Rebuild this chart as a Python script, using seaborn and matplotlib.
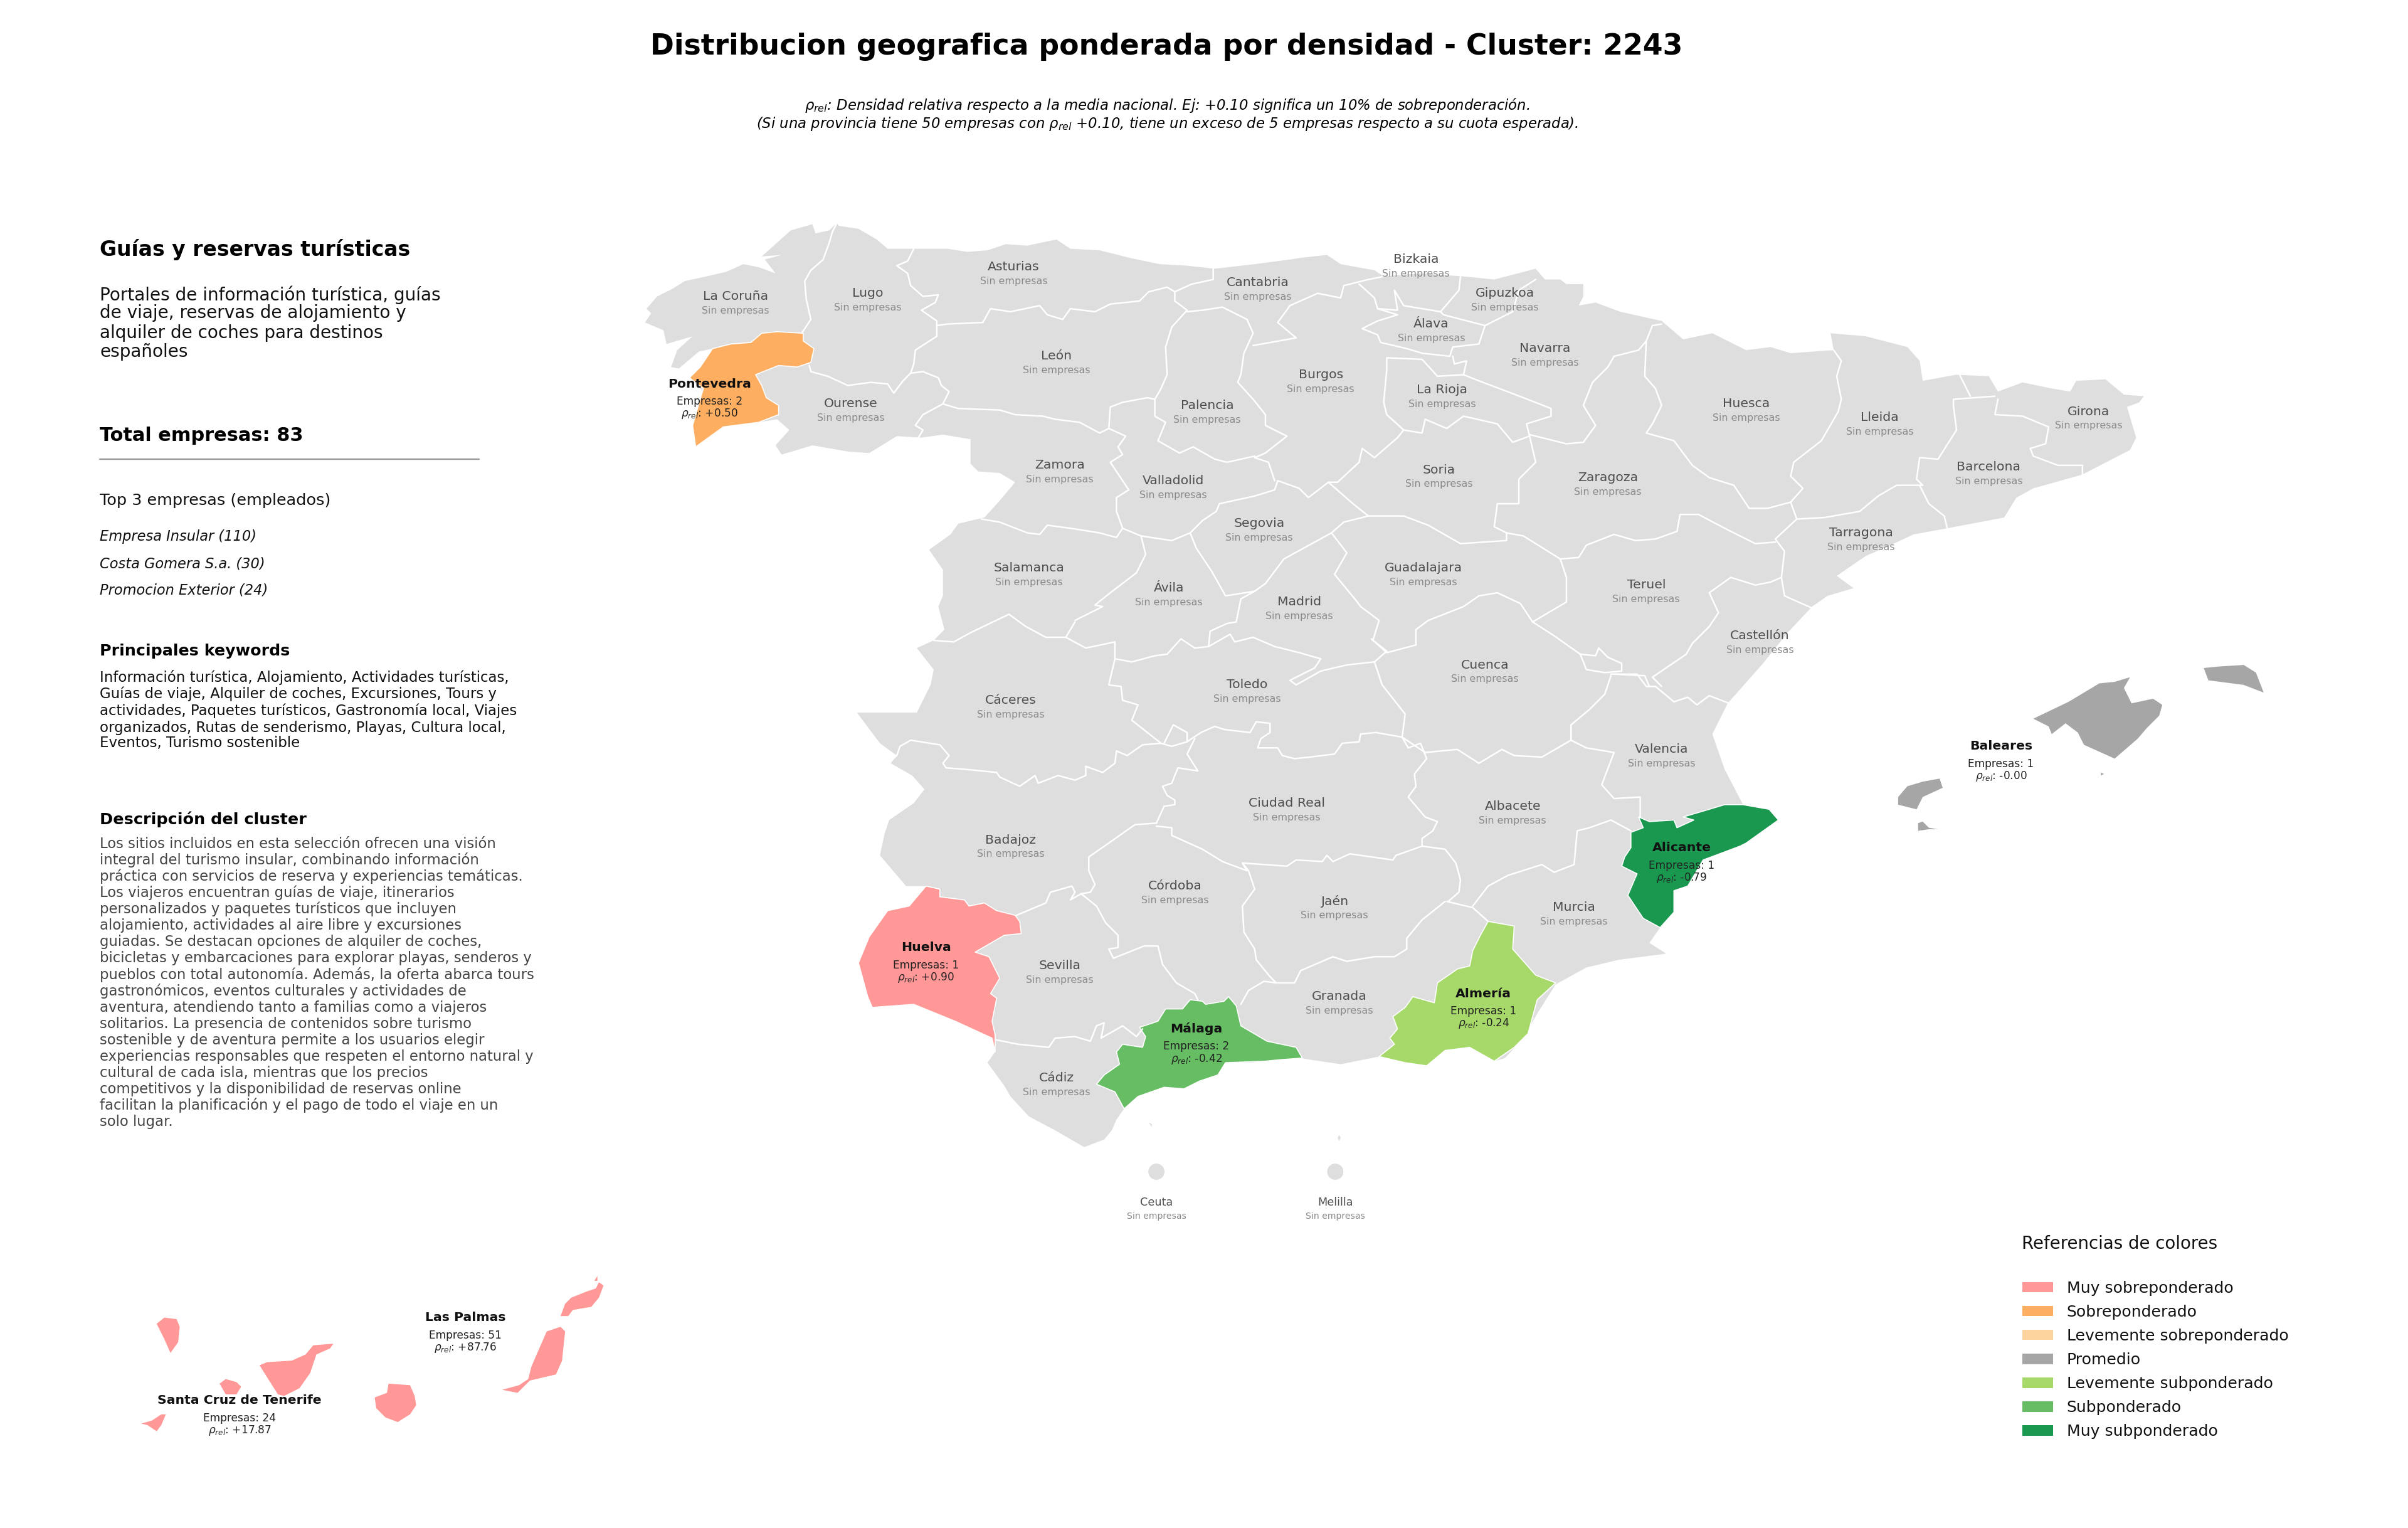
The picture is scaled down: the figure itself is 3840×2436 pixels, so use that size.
import matplotlib
matplotlib.use('Agg')
import matplotlib.pyplot as plt
import pandas as pd
import seaborn as sns
from matplotlib.patches import Patch

mainland = [(420,210),(424,204),(421,201),(428,193),(438,188),(446,183),(460,180),(473,177),(484,172),(494,174),(505,178),(498,169),(509,166),(496,167),(506,158),(515,150),(529,146),(531,152),(540,150),(545,145),(546,147),(559,149),(571,156),(578,162),(595,162),(617,162),(630,164),(643,163),(655,159),(669,160),(678,158),(688,156),(697,162),(716,163),(736,168),(755,172),(773,173),(791,175),(817,172),(840,169),(846,168),(864,166),(873,172),(895,176),(901,180),(925,178),(953,180),(973,182),(1000,175),(1006,182),(1016,182),(1020,185),(1031,185),(1031,193),(1028,199),(1039,197),(1055,203),(1082,209),(1096,221),(1115,217),(1137,228),(1153,226),(1166,230),(1194,228),(1192,217),(1215,219),(1242,226),(1250,235),(1252,248),(1274,244),(1295,245),(1301,255),(1317,249),(1336,253),(1348,255),(1352,248),(1371,247),(1383,257),(1396,258),(1393,262),(1385,265),(1391,285),(1387,293),(1356,309),(1324,318),(1313,324),(1305,337),(1268,344),(1246,348),(1231,355),(1215,362),(1196,375),(1207,383),(1190,388),(1180,395),(1164,412),(1148,432),(1125,458),(1115,478),(1123,501),(1135,524),(1152,527),(1158,534),(1137,549),(1133,551),(1109,560),(1099,577),(1090,580),(1090,594),(1081,604),(1074,614),(1085,621),(1054,625),(1033,630),(1013,641),(1001,660),(992,676),(980,689),(973,691),(957,682),(941,684),(929,694),(915,692),(898,688),(873,693),(853,690),(847,689),(834,689),(815,692),(798,692),(793,700),(781,704),(771,709),(758,708),(741,714),(732,722),(727,729),(724,736),(719,742),(706,747),(687,736),(670,727),(658,714),(654,707),(643,692),(648,685),(646,676),(622,665),(595,654),(568,656),(565,649),(559,627),(566,610),(578,593),(592,590),(604,577),(590,577),(573,557),(576,543),(579,534),(595,523),(602,514),(594,505),(580,497),(584,492),(573,484),(558,464),(580,464),(597,464),(606,446),(608,436),(597,422),(608,417),(615,410),(611,395),(614,388),(614,371),(605,358),(619,348),(624,341),(641,337),(651,326),(661,314),(651,308),(637,307),(632,302),(632,286),(614,283),(600,285),(584,284),(566,295),(552,294),(529,290),(509,296),(505,290),(514,280),(506,273),(494,275),(471,278),(453,291),(451,277),(458,255),(449,246),(456,239),(464,227),(455,229),(442,240),(437,239),(441,228),(451,219),(434,224),(432,215)]

mallorca = [(1324,468),(1347,457),(1367,445),(1377,444),(1387,441),(1383,448),(1388,458),(1402,455),(1408,459),(1406,466),(1398,474),(1392,481),(1377,494),(1357,485),(1353,477),(1345,471),(1336,478),(1334,473)]
menorca = [(1435,435),(1445,434),(1461,433),(1469,438),(1474,451),(1461,446),(1438,443)]
ibiza = [(1236,519),(1242,512),(1252,509),(1263,507),(1265,513),(1252,519),(1248,527),(1236,524)]
formentera = [(1249,541),(1249,536),(1252,535),(1256,539),(1262,540),(1256,540)]
cabrera = [(1368,503),(1370,504),(1368,505)]

la_palma = [(102,862),(107,858),(115,859),(117,864),(116,874),(111,881),(107,872)]
tenerife = [(169,889),(174,887),(190,886),(199,882),(204,876),(217,875),(215,878),(206,882),(202,894),(195,904),(185,909),(181,908),(174,897)]
la_gomera = [(143,901),(147,898),(154,900),(157,903),(154,908),(147,908)]
el_hierro = [(92,927),(99,925),(105,921),(108,921),(105,928),(102,932),(96,928)]
gran_canaria = [(244,910),(252,907),(253,901),(267,902),(270,909),(271,915),(267,921),(259,926),(251,923),(245,917)]
fuerteventura = [(327,905),(338,902),(344,898),(346,890),(349,883),(356,867),(365,864),(368,867),(367,876),(366,886),(362,895),(345,899),(337,907)]
lanzarote = [(365,857),(368,849),(372,845),(382,841),(388,839),(390,835),(393,837),(390,845),(385,851),(373,853),(370,857)]
la_graciosa = [(387,834),(389,831),(389,834)]

alboran = [(872,739),(873,741),(872,743),(871,741)]
peregil = [(748,731),(750,732),(750,734)]

pontevedra = [(464,227),(476,224),(489,223),(496,217),(506,216),(523,217),(523,222),(530,227),(528,236),(519,239),(507,238),(492,244),(496,251),(499,259),(507,264),(507,270),(494,275),(471,278),(453,291),(451,277),(458,253),(449,246),(456,239)]
huelva = [(603,577),(612,579),(612,584),(628,586),(631,590),(641,588),(649,593),(661,596),(664,600),(665,608),(654,609),(635,620),(644,623),(651,637),(645,647),(649,650),(646,665),(648,674),(648,685),(646,676),(622,665),(595,654),(568,656),(565,649),(559,627),(566,610),(578,593),(592,590)]
malaga = [(775,651),(783,652),(785,654),(797,652),(800,649),(805,655),(808,668),(825,678),(844,682),(848,689),(834,690),(824,691),(798,692),(793,700),(781,704),(771,709),(758,708),(741,714),(732,722),(726,711),(714,706),(719,700),(729,693),(727,685),(731,680),(744,682),(746,675),(742,669),(754,665),(759,657),(766,657),(770,657)]
almeria = [(969,600),(986,603),(985,618),(1000,635),(1013,640),(1001,651),(995,673),(986,682),(973,691),(957,682),(941,684),(929,694),(915,692),(898,688),(908,680),(905,676),(910,670),(907,662),(915,656),(920,649),(934,653),(936,640),(949,631),(957,629),(959,619),(964,609)]
alicante = [(1067,532),(1074,535),(1090,534),(1092,539),(1103,534),(1096,532),(1113,527),(1123,524),(1135,524),(1152,527),(1158,534),(1137,549),(1133,551),(1109,560),(1099,577),(1090,580),(1090,594),(1081,604),(1070,598),(1060,583),(1066,569),(1056,564),(1058,558),(1062,552),(1062,542),(1070,539)]

# province borders, one chain per shared stretch
b_coruna_lugo = [(545,145),(542,151),(540,158),(536,169),(528,176),(524,183),(525,195),(528,208),(522,217)]
b_lugo_ourense = [(527,238),(528,242),(539,245),(552,251),(567,249),(578,250),(582,256),(588,248),(593,243)]
b_lugo_east = [(595,162),(591,170),(584,173),(591,178),(593,186),(601,193),(611,192),(609,197),(600,202),(610,209),(610,219),(596,228),(595,237),(593,243)]
b_asturias_leon = [(610,212),(617,211),(640,210),(645,201),(658,203),(677,199),(682,205),(692,208),(697,201),(713,203),(723,198),(742,196),(748,190),(760,187),(765,190),(765,196),(773,202)]
b_asturias_cantabria = [(790,175),(790,182),(776,185),(765,190)]
b_leon_palencia = [(773,202),(763,213),(759,226),(760,244),(756,253),(752,260),(752,271),(759,275),(754,287),(768,295),(777,291),(791,299),(799,301),(817,297)]
b_leon_south = [(593,243),(601,242),(611,246),(613,251),(618,255),(614,263),(624,266),(651,267),(661,270),(679,271),(687,273),(703,275),(716,282),(722,279),(723,265),(731,262),(747,259),(752,260)]
b_ourense_zamora = [(614,263),(601,270),(596,277),(601,280),(598,285)]
b_zamora_valladolid = [(722,279),(733,284),(728,291),(731,296),(723,301),(729,310),(735,319),(727,324),(727,333),(731,344)]
b_zamora_salamanca = [(639,338),(651,340),(669,347),(677,348),(682,342),(697,344),(716,347),(727,350),(731,344)]
b_valladolid_south = [(731,344),(743,349),(763,352),(775,347),(783,339),(792,333),(794,328),(817,323)]
b_salamanca_avila = [(743,349),(746,361),(740,373),(723,386),(713,394),(718,395),(700,404)]
b_caceres_north = [(608,417),(621,418),(632,412),(657,400),(668,408),(681,415),(694,415),(700,405)]
b_caceres_east = [(694,415),(707,422),(726,418),(726,429),(722,446),(730,447),(731,456),(741,459),(737,469),(756,484)]
b_avila_toledo = [(726,429),(737,431),(752,427),(760,426),(769,416),(778,422),(787,421),(788,411),(799,406),(805,405),(808,390)]
b_avila_segovia = [(775,347),(779,357),(789,372),(798,388),(817,385),(808,390)]
b_madrid_toledo = [(787,421),(801,413),(804,418),(816,415),(830,421),(846,425),(860,429),(856,435),(840,443),(844,446),(860,437),(877,433),(895,431)]
b_madrid_east = [(867,347),(877,360),(869,374),(883,391),(886,395),(898,404),(894,417),(903,424),(895,431)]
b_madrid_segovia = [(867,347),(836,364),(824,380),(817,385)]
b_toledo_cr = [(756,484),(763,486),(773,483),(782,477),(791,473),(797,475),(814,477),(818,470),(827,471),(827,477),(821,481),(819,487),(832,487),(835,492),(843,494),(853,493),(869,491),(874,484),(885,483),(886,478),(896,477),(913,480)]
b_toledo_cuenca = [(895,431),(900,446),(915,465),(913,480)]
b_toledo_pocket = [(758,484),(764,472),(773,477),(773,483)]
b_caceres_badajoz = [(580,495),(584,492),(586,486),(593,482),(612,485),(618,492),(614,497),(616,500),(629,501),(649,503),(651,506),(664,512),(674,505),(676,510),(689,505),(700,508),(707,505),(707,499),(718,503),(726,497),(727,489),(734,492),(744,485),(756,484)]
b_badajoz_cr = [(778,481),(773,491),(780,502),(767,500),(763,510),(757,512),(760,518),(765,521),(765,524),(758,525),(753,536)]
b_cr_south = [(753,538),(763,539),(763,544),(783,553),(796,561),(812,567),(809,562),(838,564),(844,560),(861,561),(864,557),(868,561),(879,556),(900,559),(907,560),(909,557),(926,551)]
b_cr_albacete = [(913,480),(917,487),(925,484),(929,494),(921,504),(922,512),(917,519),(928,532),(936,535),(933,541),(926,546),(926,551)]
b_badajoz_cordoba = [(753,536),(739,537),(722,549),(709,558),(709,567),(713,576),(710,581)]
b_cordoba_sevilla = [(704,582),(714,590),(720,601),(728,609),(728,617),(722,618),(725,624),(745,616),(754,616),(757,628),(766,640),(778,647),(780,651)]
b_badajoz_sevilla = [(662,596),(681,588),(684,581),(698,577),(700,581),(697,586),(704,582),(710,581)]
b_cordoba_jaen = [(809,562),(813,567),(817,579),(809,590),(810,607),(817,618),(818,625),(827,636),(831,640)]
b_cordoba_granada = [(831,640),(823,639),(813,645),(808,654)]
b_jaen_granada = [(831,640),(843,640),(847,632),(868,623),(877,626),(895,623),(908,623),(916,618),(916,611),(926,599),(941,587)]
b_jaen_albacete = [(926,551),(941,553),(948,562),(951,573),(950,581),(943,587)]
b_granada_murcia = [(942,587),(959,591),(969,600)]
b_albacete_murcia = [(959,590),(969,577),(982,570),(1004,563),(1012,568),(1025,563),(1027,541),(1035,539),(1049,534),(1062,541)]
b_albacete_valencia = [(1068,532),(1068,519),(1051,520),(1043,511),(1051,490),(1033,487),(1023,482)]
b_albacete_cuenca = [(913,480),(928,490),(949,488),(963,497),(978,488),(986,492),(1004,493),(1023,482)]
b_cuenca_valencia = [(1023,482),(1023,472),(1035,462),(1045,452),(1049,440)]
b_valencia_teruel = [(1049,439),(1066,439),(1072,447),(1078,447)]
b_valencia_castellon = [(1078,447),(1090,457),(1099,454),(1105,459),(1113,453),(1126,458)]
b_ademuz = [(1029,426),(1039,427),(1041,422),(1047,428),(1056,432),(1056,437),(1045,438),(1033,436),(1029,426)]
b_teruel_cuenca = [(998,405),(1012,414),(1029,426)]
b_guadalajara_south = [(893,416),(903,425),(922,420),(922,410),(930,404),(953,395),(963,388),(975,386),(990,393),(998,405)]
b_guadalajara_east = [(998,405),(1020,392),(1020,376),(1016,364)]
b_teruel_zaragoza = [(1016,364),(1028,363),(1033,355),(1051,348),(1065,352),(1078,351),(1092,346),(1094,335),(1106,335),(1125,345),(1143,354),(1156,353)]
b_soria_guadalajara = [(891,336),(914,336),(930,342),(951,354),(981,352),(981,347)]
b_zaragoza_guadalajara = [(981,347),(992,349),(1016,364)]
b_soria_zaragoza = [(996,284),(1000,301),(989,312),(989,328),(975,328),(973,343),(981,347)]
b_soria_rioja = [(914,280),(926,282),(928,273),(942,279),(953,271),(975,276),(985,288),(996,284)]
b_soria_burgos = [(914,280),(910,285),(895,298),(887,292),(885,301),(871,314),(865,314)]
b_soria_segovia = [(865,314),(881,328),(891,336)]
b_segovia_burgos = [(865,314),(852,324),(846,318),(832,313),(830,319),(817,323)]
b_segovia_guadalajara = [(891,336),(875,340),(867,347)]
b_burgos_valladolid = [(817,298),(826,301),(830,313)]
b_palencia_cantabria = [(773,203),(783,202),(796,200),(812,208),(816,217),(810,230),(808,244),(806,249),(816,260),(824,270),(824,277),(838,284),(824,295),(817,298)]
b_cantabria_burgos = [(816,225),(844,220),(832,210),(840,199),(858,191),(873,194),(875,186),(891,182),(901,180)]
b_bizkaia_south = [(885,185),(895,194),(897,201),(910,202),(908,189),(914,199),(938,203),(950,189),(951,180)]
b_alava = [(897,201),(910,205),(897,209),(887,214),(897,218),(899,223),(916,227),(926,230),(944,232),(946,226),(963,224),(967,212),(940,205),(938,203)]
b_gipuzkoa_navarra = [(1000,182),(989,189),(985,203),(967,212)]
b_navarra_rioja = [(953,244),(963,248),(979,254),(992,259),(1010,266),(1010,271),(994,276),(996,284)]
b_navarra_zaragoza = [(996,283),(1020,289),(1031,288),(1039,277),(1031,264),(1037,249),(1047,239),(1051,232),(1067,228),(1072,222),(1076,212),(1082,211)]
b_navarra_alava = [(946,232),(947,237),(955,235),(953,244)]
b_rioja_burgos = [(953,244),(936,245),(926,234),(903,233),(903,241),(901,262),(903,270),(914,280)]
b_huesca_zaragoza = [(1072,222),(1071,245),(1078,253),(1082,264),(1076,276),(1072,282),(1090,287),(1102,303),(1113,311),(1129,316),(1139,331),(1151,331),(1166,327)]
b_huesca_lleida = [(1194,228),(1199,235),(1196,245),(1199,260),(1197,268),(1186,287),(1168,301),(1166,310),(1174,318),(1166,327),(1170,338)]
b_zaragoza_tarragona = [(1170,338),(1156,351),(1162,359),(1160,376),(1153,379)]
b_tarragona_castellon = [(1160,376),(1162,388),(1180,396)]
b_teruel_castellon = [(1153,379),(1143,381),(1127,376),(1113,386),(1119,399),(1113,408),(1102,419),(1098,426),(1076,441),(1082,447)]
b_teruel_valencia_top = [(1051,439),(1071,440),(1074,447)]
b_lleida_tarragona = [(1170,338),(1188,337),(1211,333),(1223,323),(1235,316),(1252,316)]
b_tarragona_barcelona = [(1250,316),(1256,328),(1266,336),(1268,344)]
b_lleida_barcelona = [(1252,316),(1248,312),(1250,298),(1262,299),(1274,280),(1272,264),(1272,260),(1299,258)]
b_barcelona_girona = [(1301,260),(1299,270),(1317,271),(1334,278),(1332,289),(1322,292),(1324,297),(1340,303),(1356,303),(1356,309)]
b_lleida_girona = [(1276,244),(1283,258)]
b_sevilla_cadiz = [(648,677),(663,680),(683,682),(687,676),(700,675),(710,678),(714,668),(719,666),(717,676),(731,668),(740,675),(744,670)]

mainland_borders = [b_coruna_lugo, b_lugo_ourense, b_lugo_east, b_asturias_leon, b_asturias_cantabria, b_leon_palencia, b_leon_south,
    b_ourense_zamora, b_zamora_valladolid, b_zamora_salamanca, b_valladolid_south, b_salamanca_avila, b_caceres_north, b_caceres_east,
    b_avila_toledo, b_avila_segovia, b_madrid_toledo, b_madrid_east, b_madrid_segovia, b_toledo_cr, b_toledo_cuenca, b_toledo_pocket,
    b_caceres_badajoz, b_badajoz_cr, b_cr_south, b_cr_albacete, b_badajoz_cordoba, b_cordoba_sevilla, b_badajoz_sevilla, b_cordoba_jaen,
    b_cordoba_granada, b_jaen_granada, b_jaen_albacete, b_granada_murcia, b_albacete_murcia, b_albacete_valencia, b_albacete_cuenca,
    b_cuenca_valencia, b_valencia_teruel, b_valencia_castellon, b_ademuz, b_teruel_cuenca, b_guadalajara_south, b_guadalajara_east,
    b_teruel_zaragoza, b_soria_guadalajara, b_zaragoza_guadalajara, b_soria_zaragoza, b_soria_rioja, b_soria_burgos, b_soria_segovia,
    b_segovia_burgos, b_segovia_guadalajara, b_burgos_valladolid, b_palencia_cantabria, b_cantabria_burgos, b_bizkaia_south, b_alava,
    b_gipuzkoa_navarra, b_navarra_rioja, b_navarra_zaragoza, b_navarra_alava, b_rioja_burgos, b_huesca_zaragoza, b_huesca_lleida,
    b_zaragoza_tarragona, b_tarragona_castellon, b_teruel_castellon, b_teruel_valencia_top, b_lleida_tarragona, b_tarragona_barcelona,
    b_lleida_barcelona, b_barcelona_girona, b_lleida_girona, b_sevilla_cadiz]

# provinces with no companies
empty_names = ["La Coruña","Lugo","Asturias","Cantabria","Bizkaia","Gipuzkoa","Álava","Navarra","León","Burgos","La Rioja","Palencia","Ourense","Huesca","Lleida","Girona","Barcelona","Zamora","Soria","Zaragoza","Valladolid","Segovia","Tarragona","Salamanca","Guadalajara","Ávila","Madrid","Teruel","Castellón","Cuenca","Cáceres","Toledo","Valencia","Ciudad Real","Albacete","Badajoz","Córdoba","Jaén","Murcia","Sevilla","Granada","Cádiz"]
empty_x = [479,565,660,819,922,980,932,1006,688,860,939,786,554,1137,1224,1360,1295,690,937,1047,764,820,1212,670,927,761,846,1072,1146,967,658,812,1082,838,985,658,765,869,1025,690,872,688]
empty_y = [193,191,174,184,169,191,211,227,232,244,254,264,263,263,272,268,304,303,306,311,313,341,347,370,370,383,392,381,414,433,456,446,488,523,525,547,577,587,591,629,649,702]

# provinces with companies
active_names = ["Pontevedra","Huelva","Málaga","Almería","Alicante","Baleares","Las Palmas","Santa Cruz de Tenerife"]
active_x = [462,603,779,966,1095,1303,303,156]
active_y = [250,617,670,647,552,486,858,912]
active_count = [2,1,2,1,1,1,51,24]
active_rho = ["+0.50","+0.90","-0.42","-0.24","-0.79","-0.00","+87.76","+17.87"]

# Ceuta and Melilla markers
city_names = ["Ceuta","Melilla"]
city_x = [753,869.5]
city_y = [763,763]

legend_labels = ["Muy sobreponderado","Sobreponderado","Levemente sobreponderado","Promedio","Levemente subponderado","Subponderado","Muy subponderado"]
legend_colors = ["#FF9896","#FDAE61","#FDD49E","#A6A6A6","#A6D96A","#66BD63","#1A9850"]

top_companies = ["Empresa Insular (110)","Costa Gomera S.a. (30)","Promocion Exterior (24)"]

cluster_desc = [
    "Portales de información turística, guías",
    "de viaje, reservas de alojamiento y",
    "alquiler de coches para destinos",
    "españoles",
]
keywords = [
    "Información turística, Alojamiento, Actividades turísticas,",
    "Guías de viaje, Alquiler de coches, Excursiones, Tours y",
    "actividades, Paquetes turísticos, Gastronomía local, Viajes",
    "organizados, Rutas de senderismo, Playas, Cultura local,",
    "Eventos, Turismo sostenible",
]
long_desc = [
    "Los sitios incluidos en esta selección ofrecen una visión",
    "integral del turismo insular, combinando información",
    "práctica con servicios de reserva y experiencias temáticas.",
    "Los viajeros encuentran guías de viaje, itinerarios",
    "personalizados y paquetes turísticos que incluyen",
    "alojamiento, actividades al aire libre y excursiones",
    "guiadas. Se destacan opciones de alquiler de coches,",
    "bicicletas y embarcaciones para explorar playas, senderos y",
    "pueblos con total autonomía. Además, la oferta abarca tours",
    "gastronómicos, eventos culturales y actividades de",
    "aventura, atendiendo tanto a familias como a viajeros",
    "solitarios. La presencia de contenidos sobre turismo",
    "sostenible y de aventura permite a los usuarios elegir",
    "experiencias responsables que respeten el entorno natural y",
    "cultural de cada isla, mientras que los precios",
    "competitivos y la disponibilidad de reservas online",
    "facilitan la planificación y el pago de todo el viaje en un",
    "solo lugar.",
]

sns.set_theme(style="white")
plt.rcParams['font.family'] = ['DejaVu Sans']
plt.rcParams['mathtext.fontset'] = 'dejavusans'

BASE = "#DEDEDE"
fig = plt.figure(figsize=(16, 10.15), dpi=240)
ax = fig.add_axes([0, 0, 1, 1])


def fill_poly(points, color, edge="none", lw=0):
    xs, ys = zip(*points)
    ax.fill(xs, ys, facecolor=color, edgecolor=edge, linewidth=lw, joinstyle="round")


fill_poly(mainland, BASE)
fill_poly(alboran, BASE)
fill_poly(peregil, BASE)
for chain in mainland_borders:
    xs, ys = zip(*chain)
    ax.plot(xs, ys, color="white", lw=0.75, solid_joinstyle="round")

fill_poly(pontevedra, legend_colors[1], "white", 0.5)
fill_poly(huelva, legend_colors[0], "white", 0.5)
fill_poly(malaga, legend_colors[5], "white", 0.5)
fill_poly(almeria, legend_colors[4], "white", 0.5)
fill_poly(alicante, legend_colors[6], "white", 0.5)
for isl in [mallorca, menorca, ibiza, formentera, cabrera]:
    fill_poly(isl, legend_colors[3])
for isl in [la_palma, tenerife, la_gomera, el_hierro, gran_canaria, fuerteventura, lanzarote, la_graciosa]:
    fill_poly(isl, legend_colors[0])

cities = pd.DataFrame({"x": city_x, "y": city_y})
sns.scatterplot(data=cities, x="x", y="y", ax=ax, s=60, color=BASE, edgecolor="none", legend=False)

ax.set_xlim(0, 1568)
ax.set_ylim(995, 0)
ax.set_axis_off()

# map labels
for name, x, y in zip(empty_names, empty_x, empty_y):
    ax.text(x, y, name, ha="center", va="center", fontsize=6.1, color="#4F4F4F")
    ax.text(x, y + 9.3, "Sin empresas", ha="center", va="center", fontsize=4.75, color="#8A8A8A")

for name, x in zip(city_names, city_x):
    ax.text(x, 783, name, ha="center", va="center", fontsize=5.3, color="#4F4F4F")
    ax.text(x, 792, "Sin empresas", ha="center", va="center", fontsize=4.2, color="#8A8A8A")

for name, x, y, n, rho in zip(active_names, active_x, active_y, active_count, active_rho):
    ax.text(x, y, name, ha="center", va="center", fontsize=6.1, fontweight="bold", color="#111111")
    ax.text(x, y + 11.5, f"Empresas: {n}", ha="center", va="center", fontsize=5.1, color="#222222")
    ax.text(x, y + 19.5, r"$\rho_{rel}$: " + rho, ha="center", va="center", fontsize=5.1, color="#222222")

# header
ax.text(759.5, 30.5, "Distribucion geografica ponderada por densidad - Cluster: 2243",
        ha="center", va="center", fontsize=13.7, fontweight="bold", color="black")
ax.text(760, 68.5, r"$\rho_{rel}$: Densidad relativa respecto a la media nacional. Ej: +0.10 significa un 10% de sobreponderación.",
        ha="center", va="center", fontsize=6.83, style="italic", color="black")
ax.text(760, 80.5, r"(Si una provincia tiene 50 empresas con $\rho_{rel}$ +0.10, tiene un exceso de 5 empresas respecto a su cuota esperada).",
        ha="center", va="center", fontsize=6.83, style="italic", color="black")

# left panel
LEFT = 65
ax.text(LEFT, 162.5, "Guías y reservas turísticas", va="center", fontsize=9.9, fontweight="bold", color="black")
for line, y in zip(cluster_desc, [192, 204, 217, 229]):
    ax.text(LEFT, y, line, va="center", fontsize=8.35, color="#111111")
ax.text(LEFT, 283.5, "Total empresas: 83", va="center", fontsize=9.1, fontweight="bold", color="black")
ax.plot([LEFT, 312], [299, 299], color="#999999", lw=0.7)
ax.text(LEFT, 326, "Top 3 empresas (empleados)", va="center", fontsize=7.65, color="#111111")
for line, y in zip(top_companies, [349.5, 367, 384.5]):
    ax.text(LEFT, y, line, va="center", fontsize=6.75, style="italic", color="#111111")
ax.text(LEFT, 424, "Principales keywords", va="center", fontsize=7.6, fontweight="bold", color="black")
for line, y in zip(keywords, [441, 452, 463, 474, 484]):
    ax.text(LEFT, y, line, va="center", fontsize=6.85, color="#111111")
ax.text(LEFT, 533.5, "Descripción del cluster", va="center", fontsize=7.65, fontweight="bold", color="black")
for i, line in enumerate(long_desc):
    ax.text(LEFT, 549.5 + i * 10.65, line, va="center", fontsize=6.83, color="#444444")

# legend
ax.text(1316.5, 810, "Referencias de colores", va="center", fontsize=8.3, color="#111111")
handles = [Patch(facecolor=c, edgecolor="none", label=l) for c, l in zip(legend_colors, legend_labels)]
leg = ax.legend(handles=handles, loc="upper left", bbox_to_anchor=(1317 / 1568, 1 - 834 / 995), frameon=False,
                fontsize=7.55, borderaxespad=0, borderpad=0, labelspacing=0.56, handlelength=1.94, handleheight=0.64, handletextpad=0.85)
for t in leg.get_texts():
    t.set_color("#111111")

fig.savefig("out.png", dpi=240, facecolor="white")
